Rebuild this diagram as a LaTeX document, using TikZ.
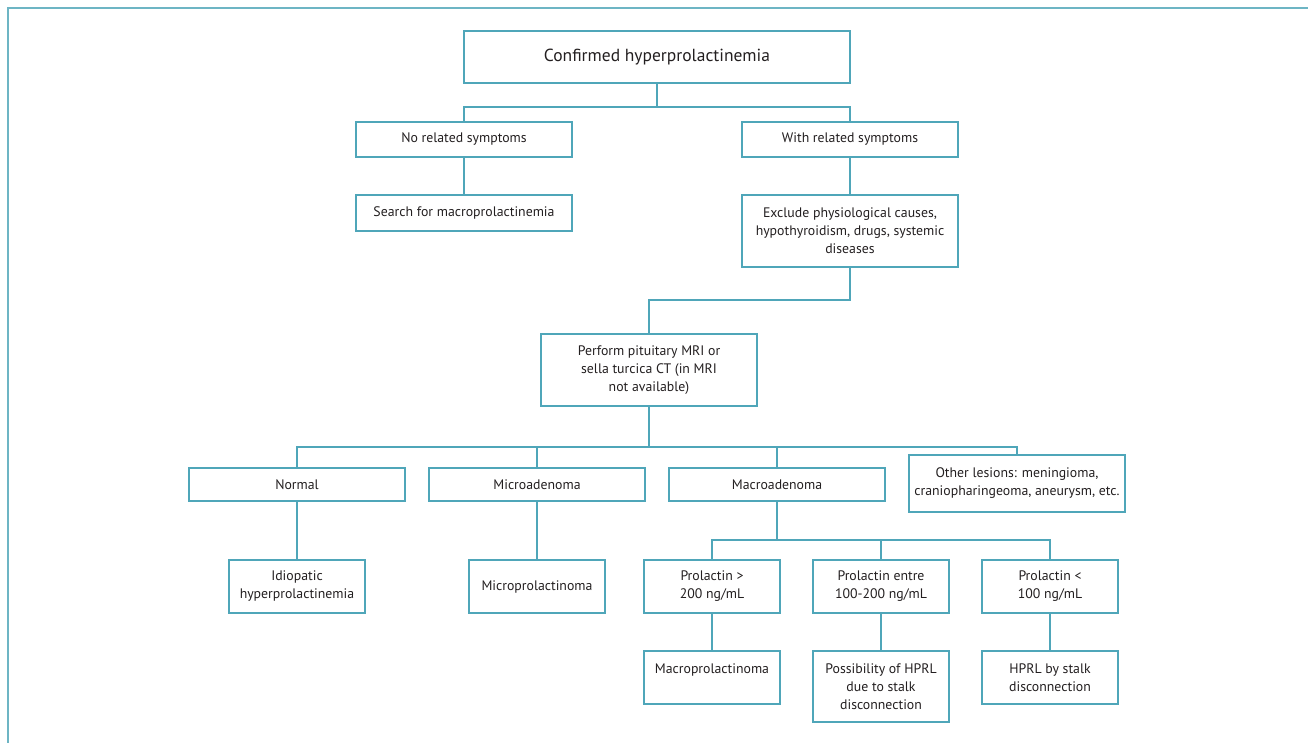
\documentclass[tikz,border=0pt]{standalone}
\usepackage{fontspec}
\setmainfont{PT Sans}
\definecolor{lc}{HTML}{4FA6B9}
\definecolor{fc}{HTML}{6DB5C4}
\definecolor{tc}{HTML}{231F20}
\begin{document}
\begin{tikzpicture}[x=1pt,y=-1pt,
  box/.style={draw=lc, line width=1.1pt, minimum width=216pt, inner sep=0pt, align=center, text=tc, font=\fontsize{13.8}{18}\selectfont},
  sbox/.style={box, minimum width=136pt, minimum height=53pt},
  ln/.style={draw=lc, line width=1.1pt}]
\useasboundingbox (0,0) rectangle (1308,743);
\draw[fc, line width=1.6pt] (1308,8) -- (8,8) -- (8,743);

\node[box, minimum width=386pt, minimum height=52pt, font=\fontsize{17.5}{20}\selectfont] (top) at (657,57) {Confirmed hyperprolactinemia};
\node[box, minimum height=35pt] (no) at (464,139.5) {No related symptoms};
\node[box, minimum height=35pt] (with) at (850,139.5) {With related symptoms};
\node[box, minimum height=36pt] (search) at (464,213) {Search for macroprolactinemia};
\node[box, minimum height=72pt] (excl) at (850,231) {Exclude physiological causes,\\hypothyroidism, drugs, systemic\\diseases};
\node[box, minimum height=72pt] (perf) at (649,370) {Perform pituitary MRI or\\sella turcica CT (in MRI\\not available)};
\node[box, minimum height=33pt] (normal) at (297,484.5) {Normal};
\node[box, minimum height=33pt] (microad) at (537,484.5) {Microadenoma};
\node[box, minimum height=33pt] (macroad) at (777,484.5) {Macroadenoma};
\node[box, minimum height=57pt] (other) at (1017,483.5) {Other lesions: meningioma,\\craniopharingeoma, aneurysm, etc.};
\node[sbox] (idio) at (297,586.5) {Idiopatic\\hyperprolactinemia};
\node[sbox] (microprol) at (537,586.5) {Microprolactinoma};
\node[sbox] (p1) at (712,586.5) {Prolactin >\\200 ng/mL};
\node[sbox] (p2) at (881,586.5) {Prolactin entre\\100-200 ng/mL};
\node[sbox] (p3) at (1050,586.5) {Prolactin <\\100 ng/mL};
\node[sbox] (q1) at (712,677.5) {Macroprolactinoma\\\mbox{}};
\node[sbox, minimum height=71pt] (q2) at (881,686.5) {Possibility of HPRL\\due to stalk\\disconnection};
\node[sbox] (q3) at (1050,677.5) {HPRL by stalk\\disconnection};

\coordinate (j1) at (657,107);
\coordinate (j2) at (850,300);
\coordinate (j3) at (649,447);
\coordinate (j4) at (777,540);

\draw[ln] (top.south) -- (j1);
\draw[ln] (no.north) |- (j1) -| (with.north);
\draw[ln] (no) -- (search);
\draw[ln] (with) -- (excl);
\draw[ln] (excl.south) -- (j2) -| (perf.north);
\draw[ln] (perf.south) -- (j3);
\draw[ln] (normal.north) |- (j3) -| (other.north);
\draw[ln] (microad.north) -- (microad.north |- j3);
\draw[ln] (macroad.north) -- (macroad.north |- j3);
\draw[ln] (normal) -- (idio);
\draw[ln] (microad) -- (microprol);
\draw[ln] (macroad.south) -- (j4);
\draw[ln] (p1.north) |- (j4) -| (p3.north);
\draw[ln] (p2.north) -- (p2.north |- j4);
\draw[ln] (p1) -- (q1);
\draw[ln] (p2) -- (q2);
\draw[ln] (p3) -- (q3);
\end{tikzpicture}
\end{document}
